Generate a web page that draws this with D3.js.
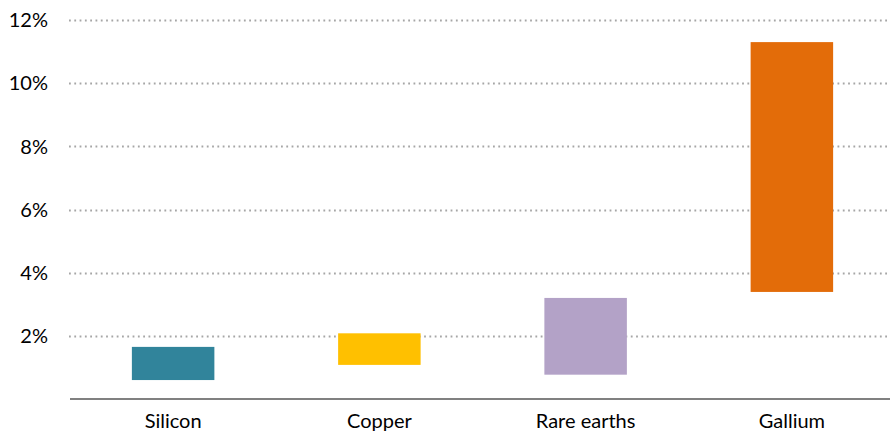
<!DOCTYPE html>
<html>
<head>
<meta charset="utf-8">
<script src="https://cdn.jsdelivr.net/npm/d3@7"></script>
<style>
  body { margin: 0; background: #fff; }
  text { font-family: Lato, "Open Sans", sans-serif; fill: #000; font-weight: 400; }
</style>
</head>
<body>
<div id="chart"></div>
<script>
// data
const categories = ["Silicon", "Copper", "Rare earths", "Gallium"];
const lowValues = [0.60, 1.08, 0.77, 3.39];
const highValues = [1.65, 2.08, 3.20, 11.30];
const barColors = ["#31849b", "#ffc000", "#b3a2c7", "#e36c09"];
const yTicks = [2, 4, 6, 8, 10, 12];

const width = 890, height = 432;
const margin = { top: 20, right: -5, bottom: 33, left: 70 };

const svg = d3.select("#chart").append("svg")
    .attr("width", width)
    .attr("height", height);

const x = d3.scaleBand()
    .domain(categories)
    .range([margin.left, width - margin.right])
    .paddingInner(0.6)
    .paddingOuter(0.3);

const y = d3.scaleLinear()
    .domain([0, 12])
    .range([height - margin.bottom, margin.top]);

// dotted gridlines
svg.append("g")
    .selectAll("line")
    .data(yTicks)
    .join("line")
    .attr("x1", margin.left - 1)
    .attr("x2", width)
    .attr("y1", d => Math.round(y(d)) + 0.5)
    .attr("y2", d => Math.round(y(d)) + 0.5)
    .attr("stroke", "#a6a6a6")
    .attr("stroke-width", 2)
    .attr("stroke-dasharray", "1.8,3.5");

// y labels
svg.append("g")
    .selectAll("text")
    .data(yTicks)
    .join("text")
    .attr("x", 48)
    .attr("y", d => y(d))
    .attr("dy", "0.36em")
    .attr("text-anchor", "end")
    .style("font-size", "20px")
    .text(d => d + "%");

// floating bars
svg.append("g")
    .selectAll("rect")
    .data(categories)
    .join("rect")
    .attr("x", d => x(d))
    .attr("width", x.bandwidth())
    .attr("y", (d, i) => y(highValues[i]))
    .attr("height", (d, i) => y(lowValues[i]) - y(highValues[i]))
    .attr("fill", (d, i) => barColors[i]);

// baseline
svg.append("line")
    .attr("x1", margin.left)
    .attr("x2", width)
    .attr("y1", y(0))
    .attr("y2", y(0))
    .attr("stroke", "#808080")
    .attr("stroke-width", 2);

// category labels
svg.append("g")
    .selectAll("text")
    .data(categories)
    .join("text")
    .attr("x", d => x(d) + x.bandwidth() / 2)
    .attr("y", 428)
    .attr("text-anchor", "middle")
    .style("font-size", "20px")
    .text(d => d);
</script>
</body>
</html>
